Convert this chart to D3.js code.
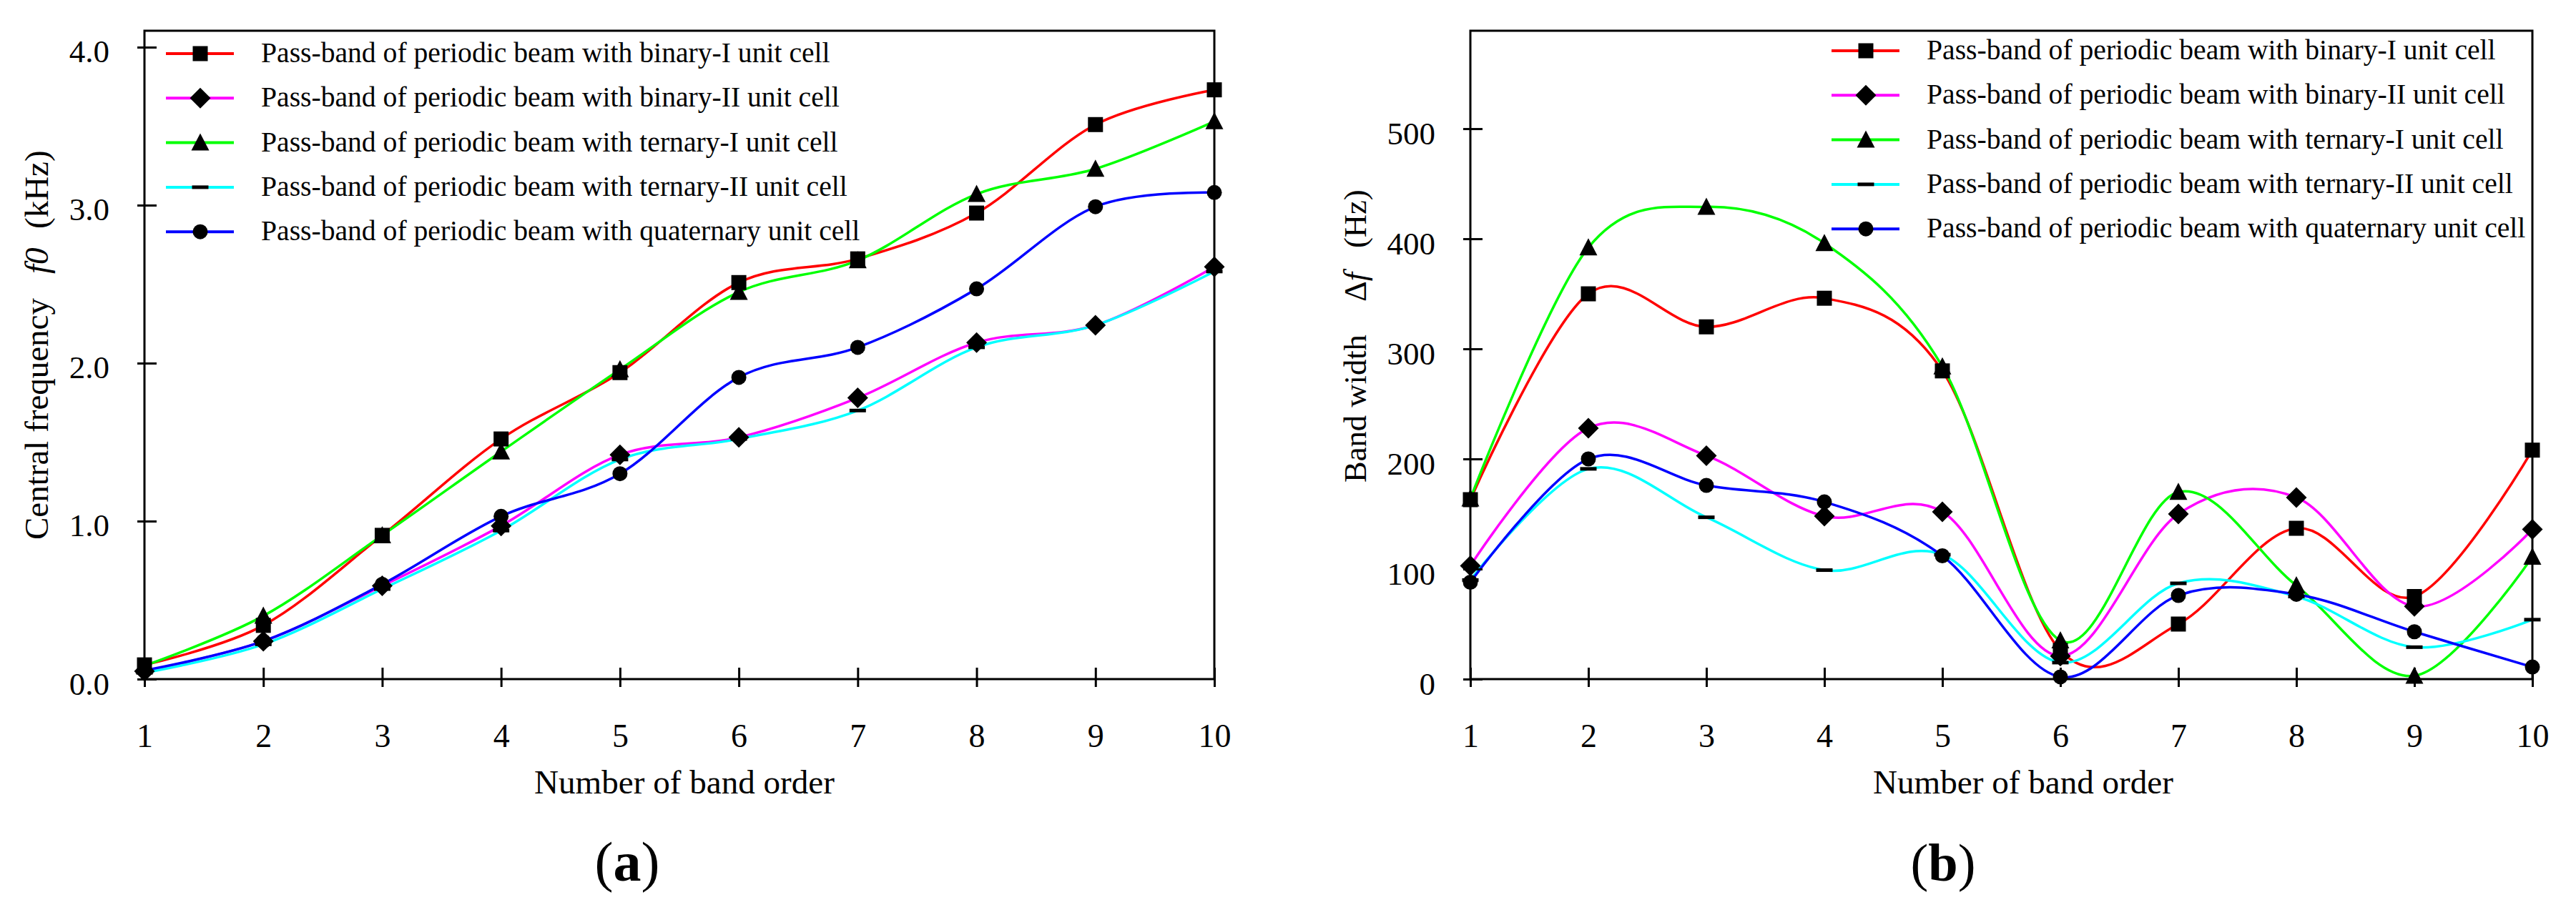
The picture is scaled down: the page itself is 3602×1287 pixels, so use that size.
<!DOCTYPE html>
<html>
<head>
<meta charset="utf-8">
<script src="https://cdn.jsdelivr.net/npm/d3@7"></script>
<style>
body { margin: 0; background: #fff; }
text { font-family: "Liberation Serif", "Times New Roman", serif; fill: #000; }
</style>
</head>
<body>
<svg id="fig"></svg>
<script>
// band order on the x axis of both panels
var bandOrder = [1, 2, 3, 4, 5, 6, 7, 8, 9, 10];

var seriesNames = [
    "Pass-band of periodic beam with binary-I unit cell",
    "Pass-band of periodic beam with binary-II unit cell",
    "Pass-band of periodic beam with ternary-I unit cell",
    "Pass-band of periodic beam with ternary-II unit cell",
    "Pass-band of periodic beam with quaternary unit cell"
];

// (a) central frequency f0, kHz
var centralBinaryI    = [0.09, 0.34, 0.91, 1.52, 1.94, 2.51, 2.66, 2.95, 3.51, 3.73];
var centralBinaryII   = [0.05, 0.24, 0.59, 0.97, 1.42, 1.53, 1.78, 2.13, 2.24, 2.61];
var centralTernaryI   = [0.085, 0.40, 0.91, 1.44, 1.96, 2.45, 2.65, 3.07, 3.23, 3.53];
var centralTernaryII  = [0.04, 0.22, 0.57, 0.94, 1.39, 1.52, 1.70, 2.10, 2.24, 2.58];
var centralQuaternary = [0.055, 0.24, 0.60, 1.03, 1.30, 1.91, 2.10, 2.47, 2.99, 3.08];

// (b) band width delta f, Hz
var widthBinaryI    = [163, 350, 320, 346, 280, 26, 50, 137, 75, 208];
var widthBinaryII   = [103, 228, 203, 148, 152, 21, 150, 165, 66, 136];
var widthTernaryI   = [164, 392, 429, 396, 284, 35, 170, 85, 3, 111];
var widthTernaryII  = [90, 191, 147, 99, 113, 15, 87, 75, 29, 54];
var widthQuaternary = [88, 200, 176, 161, 112, 2, 76, 77, 43, 11];

var centralTicks = [0, 1, 2, 3, 4];
var widthTicks = [0, 100, 200, 300, 400, 500];

var lineColors = ["#ff0000", "#ff00ff", "#00ff00", "#00ffff", "#0000ff"];
var markerTypes = ["square", "diamond", "triangle", "dash", "circle"];

var W = 3602, H = 1287;
var svg = d3.select("#fig").attr("width", W).attr("height", H);

function markerPath(type) {
    if (type === "square") return "M-10.5,-10.5H10.5V10.5H-10.5Z";
    if (type === "diamond") return "M0,-14.5L14.5,0L0,14.5L-14.5,0Z";
    if (type === "triangle") return "M0,-13L12.5,11H-12.5Z";
    if (type === "dash") return "M-11.5,-2.5H11.5V2.5H-11.5Z";
    return d3.symbol().type(d3.symbolCircle).size(Math.PI * 10.5 * 10.5)();
}

// scale font size so the text runs to the length measured on the figure
function fitFont(sel, target) {
    var fs = parseFloat(sel.style("font-size"));
    var len = sel.node().getComputedTextLength();
    var nfs = fs * target / len;
    sel.style("font-size", nfs + "px");
    return nfs;
}

function drawPanel(p) {
    var x = d3.scaleLinear().domain([1, 10]).range([p.left, p.right]);
    var y = d3.scaleLinear().domain([0, p.yMax]).range([p.bottom, p.top]);
    var g = svg.append("g");

    // series lines
    var line = d3.line()
        .x(function(d, i) { return x(bandOrder[i]); })
        .y(function(d) { return y(d); })
        .curve(d3.curveCatmullRom.alpha(0));

    p.series.forEach(function(s, k) {
        g.append("path")
            .attr("d", line(s))
            .attr("fill", "none")
            .attr("stroke", lineColors[k])
            .attr("stroke-width", 3.5);
    });

    // axes
    var yAxis = g.append("g")
        .attr("transform", "translate(" + p.left + ",0)")
        .call(d3.axisLeft(y).tickValues(p.yTicks).tickFormat(p.yFormat).tickSize(10));
    yAxis.select(".domain").remove();
    yAxis.selectAll(".tick line").attr("x1", 17).attr("x2", -10)
        .attr("stroke", "#000").attr("stroke-width", 3);
    yAxis.selectAll(".tick text")
        .attr("x", -49).attr("y", 21).attr("dy", null)
        .style("font-size", "45px").attr("font-family", null);

    var xAxis = g.append("g")
        .attr("transform", "translate(0," + p.bottom + ")")
        .call(d3.axisBottom(x).tickValues(bandOrder).tickFormat(d3.format("d")).tickSize(11));
    xAxis.select(".domain").remove();
    xAxis.selectAll(".tick line").attr("y1", -16).attr("y2", 11)
        .attr("stroke", "#000").attr("stroke-width", 3);
    xAxis.selectAll(".tick text")
        .attr("y", 95).attr("dy", null)
        .style("font-size", "46px").attr("font-family", null);

    // frame
    g.append("rect")
        .attr("x", p.left).attr("y", p.top)
        .attr("width", p.right - p.left).attr("height", p.bottom - p.top)
        .attr("fill", "none").attr("stroke", "#000").attr("stroke-width", 3);

    // markers
    p.series.forEach(function(s, k) {
        g.selectAll(null)
            .data(s)
            .enter()
            .append("path")
            .attr("d", markerPath(markerTypes[k]))
            .attr("transform", function(d, i) { return "translate(" + x(bandOrder[i]) + "," + y(d) + ")"; })
            .attr("fill", "#000");
    });

    // legend
    var legendFont = 40;
    seriesNames.forEach(function(name, k) {
        var ly = p.legendTop + k * 62.3;
        g.append("line")
            .attr("x1", p.legendLeft).attr("x2", p.legendLeft + 95)
            .attr("y1", ly).attr("y2", ly)
            .attr("stroke", lineColors[k]).attr("stroke-width", 4);
        g.append("path")
            .attr("d", markerPath(markerTypes[k]))
            .attr("transform", "translate(" + (p.legendLeft + 48) + "," + ly + ")")
            .attr("fill", "#000");
        var t = g.append("text")
            .attr("x", p.legendLeft + 133).attr("y", ly + 12)
            .style("font-size", legendFont + "px")
            .text(name);
        if (k === 0) legendFont = fitFont(t, 796);
        else t.style("font-size", legendFont + "px");
    });

    // y title, pieces placed along the axis as on the figure
    var titleFont = 47;
    p.yTitle.forEach(function(part, k) {
        var t = g.append("text")
            .attr("transform", "translate(" + p.yTitleX + "," + part.start + ") rotate(-90)")
            .style("font-size", titleFont + "px");
        part.spans.forEach(function(sp) {
            var ts = t.append("tspan").text(sp.text);
            if (sp.italic) ts.style("font-style", "italic");
        });
        if (k === 0) titleFont = fitFont(t, p.yTitleLen);
    });

    // x title
    var xt = g.append("text")
        .attr("x", p.xTitleX).attr("y", 1110)
        .attr("text-anchor", "middle")
        .style("font-size", "46px")
        .text("Number of band order");
    fitFont(xt, 420);

    // panel label
    var lab = g.append("text")
        .attr("x", p.labelX).attr("y", 1232)
        .attr("text-anchor", "middle")
        .style("font-size", "80px");
    lab.append("tspan").text("(");
    lab.append("tspan").style("font-weight", "bold").text(p.label);
    lab.append("tspan").text(")");
    fitFont(lab, 91);
}

drawPanel({
    left: 202, right: 1698, top: 43, bottom: 950,
    yMax: 4.104, yTicks: centralTicks, yFormat: d3.format(".1f"),
    series: [centralBinaryI, centralBinaryII, centralTernaryI, centralTernaryII, centralQuaternary],
    legendLeft: 232, legendTop: 75,
    yTitleX: 67, yTitleLen: 338,
    yTitle: [
        { start: 755, spans: [{ text: "Central frequency" }] },
        { start: 383, spans: [{ text: "f0", italic: true }] },
        { start: 320, spans: [{ text: "(kHz)" }] }
    ],
    xTitleX: 957, labelX: 877, label: "a"
});

drawPanel({
    left: 2056, right: 3541, top: 43, bottom: 950,
    yMax: 589, yTicks: widthTicks, yFormat: d3.format("d"),
    series: [widthBinaryI, widthBinaryII, widthTernaryI, widthTernaryII, widthQuaternary],
    legendLeft: 2561, legendTop: 71,
    yTitleX: 1910, yTitleLen: 207,
    yTitle: [
        { start: 675, spans: [{ text: "Band width" }] },
        { start: 422, spans: [{ text: "\u0394" }, { text: "f", italic: true }] },
        { start: 347, spans: [{ text: "(Hz)" }] }
    ],
    xTitleX: 2829, labelX: 2717, label: "b"
});
</script>
</body>
</html>
